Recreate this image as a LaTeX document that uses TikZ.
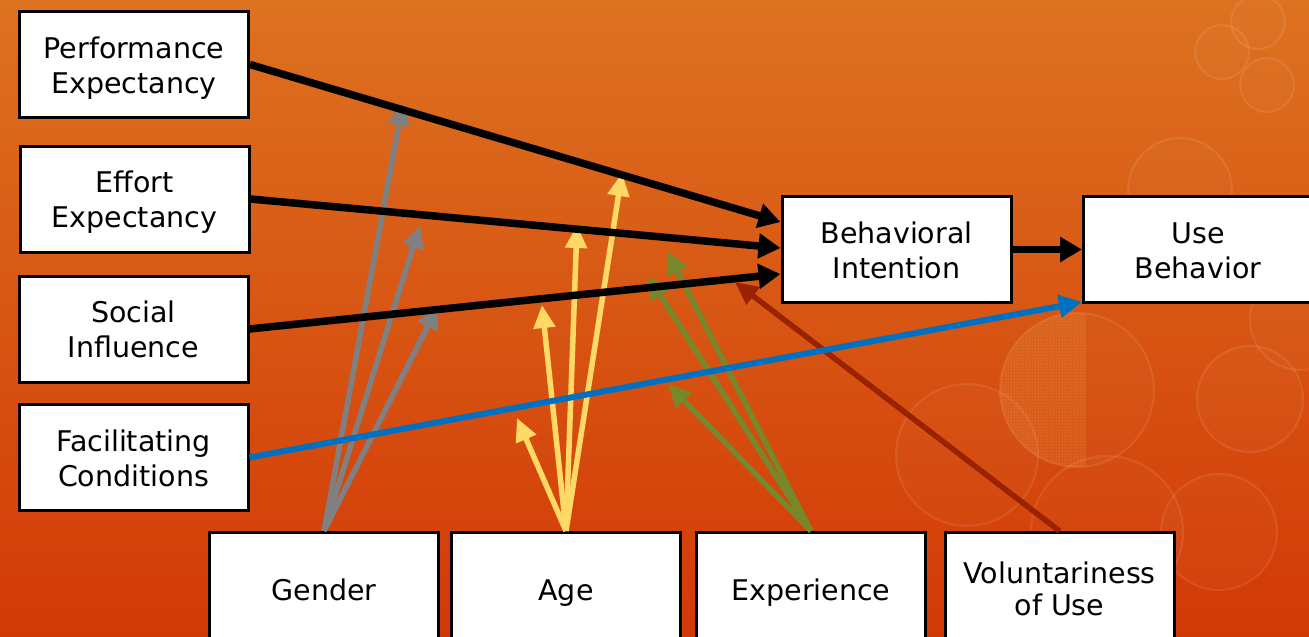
\documentclass[tikz,border=0pt]{standalone}
\usepackage{fontspec}
\setmainfont{DejaVu Sans}
\usetikzlibrary{arrows.meta,patterns}
\definecolor{bgtop}{HTML}{DD7220}
\definecolor{bgbot}{HTML}{D23906}
\definecolor{gr}{HTML}{808080}
\definecolor{ye}{HTML}{FFD966}
\definecolor{olv}{HTML}{76882A}
\definecolor{dred}{HTML}{992200}
\definecolor{blu}{HTML}{0070C0}
\newcommand\lnS{\rule[-6pt]{0pt}{34.6pt}}
\tikzset{
  box/.style={draw=black, fill=white, line width=3pt, minimum width=229pt, minimum height=106pt,
    align=center, inner sep=0pt, font=\fontsize{28.5}{35}\selectfont},
  blk/.style={line width=7.5pt, -{Triangle[length=22pt,width=24pt]}},
  mod/.style={line width=5.5pt, -{Triangle[length=23pt,width=21pt]}},
  bub/.style={draw=white, draw opacity=0.09, line width=2pt, fill=white, fill opacity=0.025},
}
\begin{document}
\begin{tikzpicture}[x=1pt, y=-1pt]
\useasboundingbox (0,0) rectangle (1309,637);
\shade[top color=bgtop, bottom color=bgbot] (0,0) rectangle (1309,637);
% decorative bubbles
\foreach \cx/\cy/\r in {1222/52/27, 1258/22/27, 1267/85/27, 1180/190/52, 967/455/71, 1107/532/76, 1219/532/58, 1250/399/53, 1300/320/50, 1077/390/77}
  \path[bub] (\cx,\cy) circle (\r);
\begin{scope}
  \clip (1000,300) rectangle (1086,470);
  \fill[pattern=dots, pattern color=ye!70!white, opacity=0.45] (1077,390) circle (77);
  \fill[ye, opacity=0.08] (1077,390) circle (77);
\end{scope}

% nodes
\node[box] (pe) at (134,64.5) {\lnS Performance\\\lnS Expectancy};
\node[box] (ee) at (134.5,199) {\lnS Effort\\\lnS Expectancy};
\node[box] (si) at (133.5,329) {\lnS Social\\\lnS Influence};
\node[box] (fc) at (133.5,457.5) {\lnS Facilitating\\\lnS Conditions};
\node[box] (bi) at (896.5,249.5) {\lnS Behavioral\\\lnS Intention};
\node[box] (ub) at (1198,249.5) {\lnS Use\\\lnS Behavior};
\node[box, minimum height=113pt] (ge) at (324,589) {\lnS Gender};
\node[box, minimum height=113pt] (ag) at (566,589) {\lnS Age};
\node[box, minimum height=113pt] (ex) at (811,589) {\lnS Experience};
\node[box, minimum height=113pt, font=\fontsize{28.5}{32}\selectfont] (vo) at (1059.5,589) {\rule[-6pt]{0pt}{32pt}Voluntariness\\\rule[-6pt]{0pt}{32pt}of Use};

% tip coordinates
\coordinate (g1) at (403,102);
\coordinate (g2) at (420,225);
\coordinate (g3) at (438,306);
\coordinate (y1) at (622,173);
\coordinate (y2) at (577,225);
\coordinate (y3) at (542,305);
\coordinate (y4) at (517,418);
\coordinate (e1) at (667,251);
\coordinate (e2) at (648,276);
\coordinate (e3) at (668,384);
\coordinate (v1) at (735,282);

% moderators
\draw[mod, draw=dred, color=dred] (vo.north) -- (v1);
\foreach \t in {g1,g2,g3} \draw[mod, draw=gr, color=gr] (ge.north) -- (\t);
\foreach \t in {y1,y2,y3,y4} \draw[mod, draw=ye, color=ye] (ag.north) -- (\t);
\foreach \t in {e1,e2,e3} \draw[mod, draw=olv, color=olv] (ex.north) -- (\t);

% main paths
\draw[blk] (pe.east) -- ([yshift=27.5pt]bi.west);
\draw[blk] (ee.east) -- ([yshift=1.5pt]bi.west);
\draw[blk] (si.east) -- ([yshift=-24.5pt]bi.west);
\draw[blk] (bi.east) -- (ub.west);
\draw[line width=6pt, blu, -{Triangle[length=23pt,width=22pt]}] (fc.east) -- ([yshift=2pt]ub.south west);
\end{tikzpicture}
\end{document}
